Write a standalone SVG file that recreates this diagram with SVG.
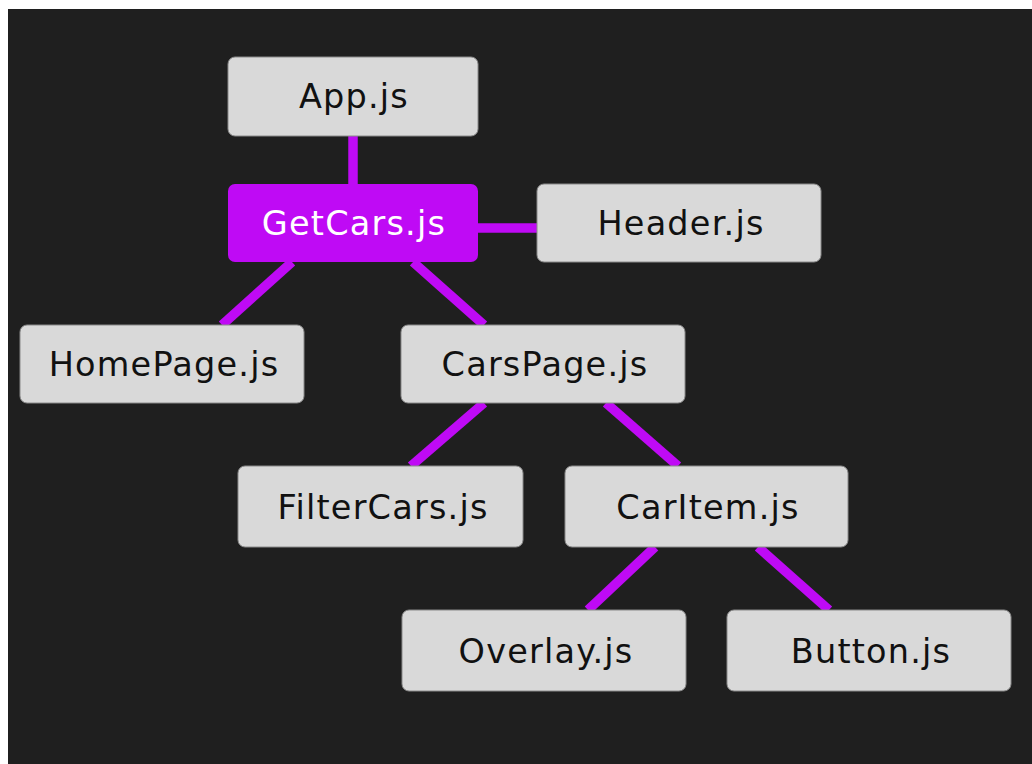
<svg xmlns="http://www.w3.org/2000/svg" width="1032" height="764" viewBox="0 0 1032 764">
<style>
.bg{fill:#1f1f1f}
.box{fill:#d9d9d9;stroke:#8a8a8a;stroke-width:1}
.hl{fill:#bf0af5}
.lbl{font-family:"DejaVu Sans","Noto Sans",sans-serif;font-size:33.5px;letter-spacing:1.2px;fill:#111;text-anchor:middle}
.wl{fill:#ffffff}
.edge{stroke:#bf0af5;stroke-width:9.5;fill:none}
</style>
<rect width="1032" height="764" fill="#ffffff"/>
<rect class="bg" x="8" y="9" width="1024" height="755"/>
<g id="connectors">
<line class="edge" x1="353" y1="130" x2="353" y2="190"/>
<line class="edge" x1="470" y1="228" x2="545" y2="228"/>
<line class="edge" x1="292" y1="262" x2="222" y2="325"/>
<line class="edge" x1="413" y1="262" x2="484" y2="325"/>
<line class="edge" x1="484" y1="403" x2="411" y2="466"/>
<line class="edge" x1="606" y1="403" x2="678" y2="466"/>
<line class="edge" x1="655" y1="547" x2="588" y2="610"/>
<line class="edge" x1="758" y1="547" x2="829" y2="610"/>
</g>
<g id="app"><rect class="box" x="228" y="57" width="250" height="79" rx="7"/><text class="lbl" x="354" y="108">App.js</text></g>
<g id="getcars"><rect class="hl" x="228" y="184" width="250" height="78" rx="7"/><text class="lbl wl" x="354" y="235">GetCars.js</text></g>
<g id="header"><rect class="box" x="537" y="184" width="284" height="78" rx="7"/><text class="lbl" x="681" y="235">Header.js</text></g>
<g id="homepage"><rect class="box" x="20" y="325" width="284" height="78" rx="7"/><text class="lbl" x="164" y="376">HomePage.js</text></g>
<g id="carspage"><rect class="box" x="401" y="325" width="284" height="78" rx="7"/><text class="lbl" x="545" y="376">CarsPage.js</text></g>
<g id="filtercars"><rect class="box" x="238" y="466" width="285" height="81" rx="7"/><text class="lbl" x="383" y="519">FilterCars.js</text></g>
<g id="caritem"><rect class="box" x="565" y="466" width="283" height="81" rx="7"/><text class="lbl" x="708" y="519">CarItem.js</text></g>
<g id="overlay"><rect class="box" x="402" y="610" width="284" height="81" rx="7"/><text class="lbl" x="546" y="663">Overlay.js</text></g>
<g id="button"><rect class="box" x="727" y="610" width="284" height="81" rx="7"/><text class="lbl" x="871" y="663">Button.js</text></g>
</svg>
